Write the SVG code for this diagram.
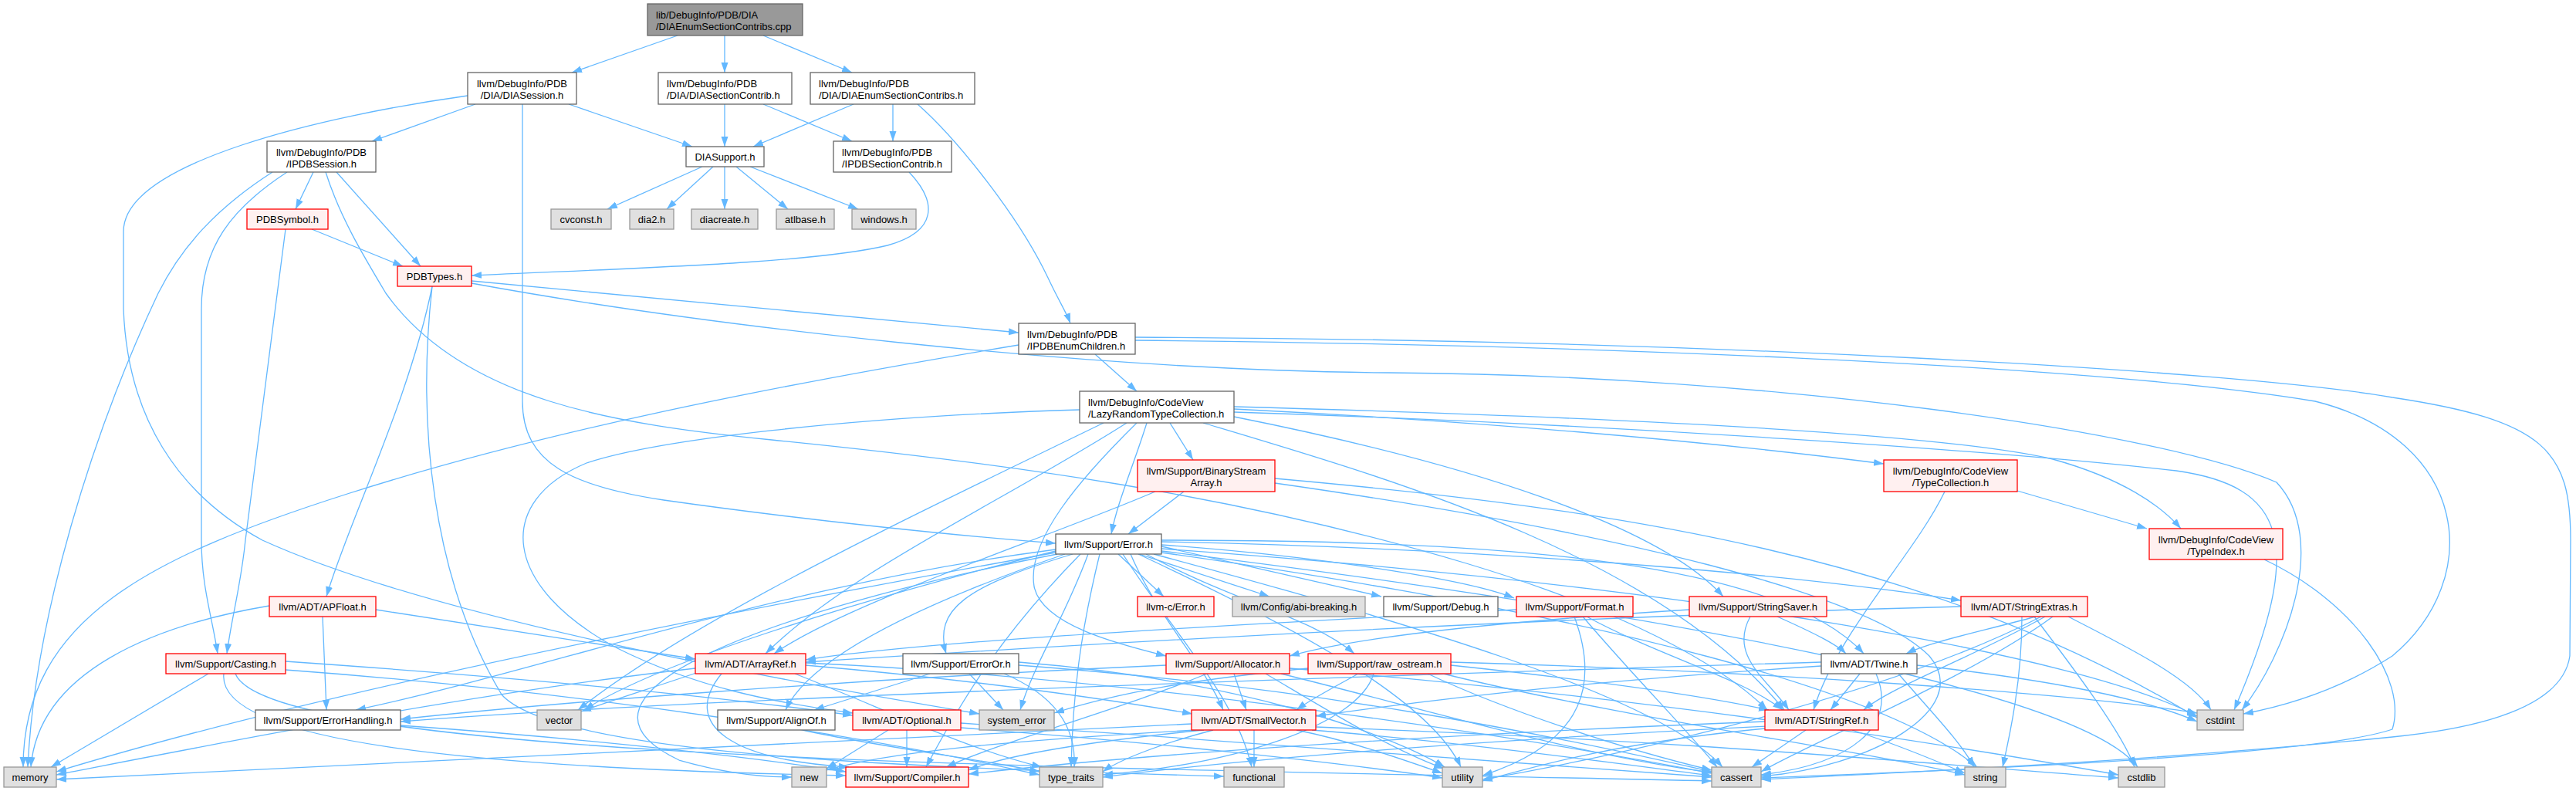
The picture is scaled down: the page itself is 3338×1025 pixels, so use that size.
<svg xmlns="http://www.w3.org/2000/svg" width="3338" height="1025" viewBox="0 0 3338 1025">
<style>
text{font-family:"Liberation Sans",Arial,Helvetica,sans-serif;font-size:13px;fill:#000}
.c text{text-anchor:middle}
.m rect{fill:#999999;stroke:#666666;stroke-width:1.3}
.w rect{fill:#ffffff;stroke:#666666;stroke-width:1.3}
.r rect{fill:#fff0f0;stroke:#ff0000;stroke-width:1.3}
.g rect{fill:#e0e0e0;stroke:#999999;stroke-width:1.3}
#edges path{fill:none;stroke:#63b8ff;stroke-width:1.3;marker-end:url(#a)}
</style>
<defs>
<marker id="a" markerUnits="userSpaceOnUse" markerWidth="13" markerHeight="10" refX="13" refY="4.5" orient="auto">
<path d="M0,0 L13,4.5 L0,9 z" fill="#63b8ff"/>
</marker>
</defs>
<rect width="3338" height="1025" fill="#ffffff"/>
<g id="edges">
<path d="M878,46 L741,94"/>
<path d="M939,46 L939,94"/>
<path d="M989,46 L1104,94"/>
<path d="M616,135 L482,183"/>
<path d="M737,135 L897,190"/>
<path d="M677,135 L677,520 C677,600 740,630 860,648 C1050,675 1250,695 1368,704"/>
<path d="M606,124 C420,150 160,210 160,300 L160,400 C165,540 230,640 340,700 C560,800 1000,880 1269,925"/>
<path d="M939,135 L939,190"/>
<path d="M989,135 L1104,183"/>
<path d="M1106,135 L976,190"/>
<path d="M1157,135 L1157,183"/>
<path d="M1189,135 C1240,180 1320,280 1358,360 C1372,390 1382,405 1387,419"/>
<path d="M910,216 L787,271"/>
<path d="M924,216 L864,271"/>
<path d="M939,216 L939,271"/>
<path d="M954,216 L1021,271"/>
<path d="M972,216 L1112,271"/>
<path d="M406,223 L383,271"/>
<path d="M436,223 L545,345"/>
<path d="M353,223 C280,270 235,320 205,380 C120,560 45,800 36,994"/>
<path d="M372,223 C300,270 261,320 261,400 L261,700 C261,760 275,800 282,847"/>
<path d="M422,223 C440,280 470,330 500,380 C600,520 800,550 1000,570 C1300,600 1600,640 1900,730 C2100,790 2230,860 2290,920"/>
<path d="M1178,223 C1215,262 1215,300 1150,318 C1050,342 800,348 611,357"/>
<path d="M404,297 L522,345"/>
<path d="M370,297 C350,450 325,650 318,700 C312,760 300,800 294,847"/>
<path d="M611,364 L1320,431"/>
<path d="M611,367 C900,420 1400,480 1800,483 C2300,486 2800,560 2950,625 C3020,700 2960,850 2905,920"/>
<path d="M560,371 C530,520 450,680 423,773"/>
<path d="M560,371 C540,550 560,750 650,900 C720,980 1200,995 1586,1006"/>
<path d="M1419,459 L1473,507"/>
<path d="M1320,447 C1000,500 700,560 450,640 C200,720 30,800 30,994"/>
<path d="M1471,441 C2000,446 2700,470 3000,520 C3200,570 3220,750 3100,850 C3030,895 2960,915 2907,925"/>
<path d="M1471,437 C2200,440 2900,480 3100,515 C3300,545 3331,585 3331,700 L3330,850 C3320,920 3200,945 3100,955 C2800,985 2500,1000 2282,1010"/>
<path d="M1516,548 L1546,596"/>
<path d="M1599,530 C1900,545 2200,570 2441,601"/>
<path d="M1599,527 C2000,538 2500,558 2660,595 C2750,620 2800,655 2826,685"/>
<path d="M1599,534 C2100,550 2600,585 2820,610 C2960,630 2990,700 2895,920"/>
<path d="M1599,540 C1900,600 2150,680 2233,773"/>
<path d="M1486,548 C1470,600 1448,650 1440,692"/>
<path d="M1460,548 C1300,650 1100,740 992,847"/>
<path d="M1430,548 C1200,660 900,800 749,920"/>
<path d="M1473,548 C1400,620 1330,700 1340,760 C1350,810 1450,835 1511,850"/>
<path d="M1399,531 C1100,540 850,570 760,600 C640,650 650,760 800,840 C900,890 1000,910 1105,924"/>
<path d="M1559,548 C1800,620 2150,720 2312,920"/>
<path d="M1534,637 L1462,692"/>
<path d="M1497,637 C1350,700 1100,780 1003,847"/>
<path d="M1652,620 C2100,660 2500,720 2847,930"/>
<path d="M1652,626 C2100,690 2420,770 2500,850 C2560,920 2420,995 2282,1006"/>
<path d="M2614,636 L2782,685"/>
<path d="M2520,637 C2480,720 2380,820 2350,920"/>
<path d="M2934,725 C3050,780 3120,880 3100,945 C3000,980 2500,1000 2282,1008"/>
<path d="M1449,718 L1508,773"/>
<path d="M1476,718 L1645,773"/>
<path d="M1505,708 L1790,773"/>
<path d="M1505,706 C1700,720 1900,750 1962,775"/>
<path d="M1505,702 C1900,710 2300,740 2541,778"/>
<path d="M1505,700 C1900,700 2300,720 2415,847"/>
<path d="M1390,718 C1250,760 1210,790 1226,847"/>
<path d="M1380,718 C1200,780 1050,850 1018,920"/>
<path d="M1368,712 C1000,760 700,870 461,920"/>
<path d="M1368,714 C1100,780 850,860 757,920"/>
<path d="M1368,716 C900,800 400,900 73,1000"/>
<path d="M1370,718 C1000,790 700,900 880,985 C950,1005 1000,1007 1026,1007"/>
<path d="M1400,718 C1300,820 1250,900 1200,994"/>
<path d="M1410,718 C1380,800 1340,860 1322,920"/>
<path d="M1425,718 C1400,820 1390,900 1388,994"/>
<path d="M1455,718 C1520,820 1600,900 1622,994"/>
<path d="M1475,718 C1650,800 1850,900 1893,994"/>
<path d="M1495,718 C1800,800 2150,900 2232,994"/>
<path d="M1505,711 C2200,760 2700,850 2847,928"/>
<path d="M1505,714 C2200,800 2700,900 2770,994"/>
<path d="M1505,716 C2100,800 2450,900 2562,994"/>
<path d="M1485,718 C1600,780 1700,800 1755,847"/>
<path d="M1465,718 C1500,800 1560,860 1585,920"/>
<path d="M1965,790 C1600,810 1200,830 1044,855"/>
<path d="M2056,799 C2150,850 2260,880 2310,920"/>
<path d="M2051,799 C2120,880 2190,950 2225,994"/>
<path d="M2040,799 C2070,880 2060,960 1921,1005"/>
<path d="M2189,790 C1950,805 1760,825 1671,850"/>
<path d="M2268,799 C2240,850 2290,880 2318,920"/>
<path d="M2303,799 C2350,820 2380,835 2392,847"/>
<path d="M2541,786 C2000,800 1400,835 1044,858"/>
<path d="M2638,799 C2560,820 2500,832 2470,847"/>
<path d="M2650,799 C2560,850 2450,890 2415,920"/>
<path d="M2660,799 C2550,880 2350,960 2282,1000"/>
<path d="M2645,799 C2450,900 2100,980 1921,1010"/>
<path d="M2680,799 C2760,840 2840,880 2865,920"/>
<path d="M2636,799 C2690,870 2750,950 2766,994"/>
<path d="M2620,799 C2620,880 2605,950 2595,994"/>
<path d="M2410,873 L2372,920"/>
<path d="M2431,873 C2460,940 2400,990 2282,1004"/>
<path d="M2360,863 C2100,880 1900,900 1705,928"/>
<path d="M2360,858 C1800,875 900,905 519,935"/>
<path d="M2484,862 C2650,880 2780,905 2847,935"/>
<path d="M2460,873 C2500,920 2540,960 2558,994"/>
<path d="M1560,946 C1400,962 1300,980 1255,998"/>
<path d="M1572,946 C1500,965 1450,985 1429,1000"/>
<path d="M1625,946 L1625,994"/>
<path d="M1700,946 C1900,962 2100,990 2218,1005"/>
<path d="M1705,942 C2200,960 2500,990 2745,1008"/>
<path d="M1680,946 C1750,960 1820,985 1869,1002"/>
<path d="M1544,938 C1000,960 500,990 73,1010"/>
<path d="M1550,946 C1300,960 1150,975 1071,998"/>
<path d="M2287,935 C1900,950 1500,975 1255,1003"/>
<path d="M2290,941 C1900,960 1600,985 1429,1007"/>
<path d="M2340,946 L2270,994"/>
<path d="M2400,946 C2450,962 2500,982 2546,1002"/>
<path d="M2287,944 C2100,962 2000,990 1921,1012"/>
<path d="M1760,873 C1730,890 1700,905 1680,920"/>
<path d="M1880,862 C2050,880 2200,900 2292,920"/>
<path d="M1850,873 C1950,920 2100,970 2218,998"/>
<path d="M1880,858 C2300,870 2700,900 2847,924"/>
<path d="M1870,873 C2100,930 2400,970 2546,1004"/>
<path d="M1695,866 C1550,880 1450,897 1366,924"/>
<path d="M1780,873 C1760,940 1600,990 1429,1004"/>
<path d="M1599,873 L1615,920"/>
<path d="M1564,873 C1450,920 1300,960 1226,994"/>
<path d="M1511,862 C1100,880 700,912 519,932"/>
<path d="M1660,873 C1850,920 2050,980 2218,1001"/>
<path d="M1671,866 C2100,900 2500,960 2745,1004"/>
<path d="M1640,873 C1720,920 1800,970 1871,996"/>
<path d="M1044,862 C1250,880 1400,900 1545,925"/>
<path d="M935,873 C880,940 950,985 1100,994"/>
<path d="M901,866 C600,900 300,960 73,1004"/>
<path d="M905,871 C850,890 800,905 753,922"/>
<path d="M1030,873 C1150,920 1250,970 1350,994"/>
<path d="M1044,859 C1500,880 2000,960 2218,1002"/>
<path d="M1205,873 L1055,920"/>
<path d="M1256,873 L1300,920"/>
<path d="M1301,873 C1365,900 1395,940 1392,994"/>
<path d="M1320,862 C1700,890 2000,950 2218,1000"/>
<path d="M1320,858 C1600,880 1800,950 1872,994"/>
<path d="M1040,946 C1150,970 1280,985 1347,1000"/>
<path d="M1175,946 L1175,994"/>
<path d="M1151,946 L1071,996"/>
<path d="M1245,937 C1600,960 2000,990 2218,1007"/>
<path d="M1245,943 C1500,962 1750,990 1869,1008"/>
<path d="M270,873 L66,994"/>
<path d="M370,857 C700,880 950,905 1105,927"/>
<path d="M370,868 C800,900 1150,960 1347,1004"/>
<path d="M290,873 C280,960 600,995 1096,1005"/>
<path d="M305,873 C350,990 1500,995 2218,1012"/>
<path d="M418,799 L423,920"/>
<path d="M349,785 C200,810 50,870 40,994"/>
<path d="M487,790 C650,815 780,835 901,854"/>
<path d="M519,940 C800,960 1000,985 1096,1000"/>
</g>
<g id="nodes">
<g id="n_main" class="m"><rect x="839" y="5" width="201" height="41"/><text x="850" y="24">lib/DebugInfo/PDB/DIA</text><text x="850" y="39">/DIAEnumSectionContribs.cpp</text></g>
<g id="n_DIASession" class="w c"><rect x="606" y="94" width="141" height="41"/><text x="676.5" y="113">llvm/DebugInfo/PDB</text><text x="676.5" y="128">/DIA/DIASession.h</text></g>
<g id="n_DIASectionContrib" class="w"><rect x="853" y="94" width="173" height="41"/><text x="864" y="113">llvm/DebugInfo/PDB</text><text x="864" y="128">/DIA/DIASectionContrib.h</text></g>
<g id="n_DIAEnumSectionContribs" class="w"><rect x="1050" y="94" width="213" height="41"/><text x="1061" y="113">llvm/DebugInfo/PDB</text><text x="1061" y="128">/DIA/DIAEnumSectionContribs.h</text></g>
<g id="n_IPDBSession" class="w c"><rect x="346" y="183" width="141" height="40"/><text x="416.5" y="202">llvm/DebugInfo/PDB</text><text x="416.5" y="217">/IPDBSession.h</text></g>
<g id="n_DIASupport" class="w c"><rect x="889" y="190" width="101" height="26"/><text x="939.5" y="207.5">DIASupport.h</text></g>
<g id="n_IPDBSectionContrib" class="w"><rect x="1080" y="183" width="153" height="40"/><text x="1091" y="202">llvm/DebugInfo/PDB</text><text x="1091" y="217">/IPDBSectionContrib.h</text></g>
<g id="n_PDBSymbol" class="r c"><rect x="320" y="271" width="105" height="26"/><text x="372.5" y="288.5">PDBSymbol.h</text></g>
<g id="n_cvconst" class="g c"><rect x="714" y="271" width="78" height="26"/><text x="753" y="288.5">cvconst.h</text></g>
<g id="n_dia2" class="g c"><rect x="816" y="271" width="57" height="26"/><text x="844.5" y="288.5">dia2.h</text></g>
<g id="n_diacreate" class="g c"><rect x="896" y="271" width="86" height="26"/><text x="939" y="288.5">diacreate.h</text></g>
<g id="n_atlbase" class="g c"><rect x="1006" y="271" width="75" height="26"/><text x="1043.5" y="288.5">atlbase.h</text></g>
<g id="n_windows" class="g c"><rect x="1104" y="271" width="83" height="26"/><text x="1145.5" y="288.5">windows.h</text></g>
<g id="n_PDBTypes" class="r c"><rect x="515" y="345" width="96" height="26"/><text x="563" y="362.5">PDBTypes.h</text></g>
<g id="n_IPDBEnumChildren" class="w"><rect x="1320" y="419" width="151" height="40"/><text x="1331" y="438">llvm/DebugInfo/PDB</text><text x="1331" y="453">/IPDBEnumChildren.h</text></g>
<g id="n_LazyRandomTypeCollection" class="w"><rect x="1399" y="507" width="200" height="41"/><text x="1410" y="526">llvm/DebugInfo/CodeView</text><text x="1410" y="541">/LazyRandomTypeCollection.h</text></g>
<g id="n_BinaryStreamArray" class="r c"><rect x="1474" y="596" width="178" height="41"/><text x="1563" y="615">llvm/Support/BinaryStream</text><text x="1563" y="630">Array.h</text></g>
<g id="n_TypeCollection" class="r c"><rect x="2441" y="596" width="173" height="41"/><text x="2527.5" y="615">llvm/DebugInfo/CodeView</text><text x="2527.5" y="630">/TypeCollection.h</text></g>
<g id="n_TypeIndex" class="r c"><rect x="2785" y="685" width="173" height="40"/><text x="2871.5" y="704">llvm/DebugInfo/CodeView</text><text x="2871.5" y="719">/TypeIndex.h</text></g>
<g id="n_Error" class="w c"><rect x="1368" y="692" width="137" height="26"/><text x="1436.5" y="709.5">llvm/Support/Error.h</text></g>
<g id="n_APFloat" class="r c"><rect x="349" y="773" width="138" height="26"/><text x="418" y="790.5">llvm/ADT/APFloat.h</text></g>
<g id="n_cError" class="r c"><rect x="1474" y="773" width="99" height="26"/><text x="1523.5" y="790.5">llvm-c/Error.h</text></g>
<g id="n_abibreaking" class="g c"><rect x="1597" y="773" width="172" height="26"/><text x="1683" y="790.5">llvm/Config/abi-breaking.h</text></g>
<g id="n_Debug" class="w c"><rect x="1793" y="773" width="148" height="26"/><text x="1867" y="790.5">llvm/Support/Debug.h</text></g>
<g id="n_Format" class="r c"><rect x="1965" y="773" width="151" height="26"/><text x="2040.5" y="790.5">llvm/Support/Format.h</text></g>
<g id="n_StringSaver" class="r c"><rect x="2189" y="773" width="178" height="26"/><text x="2278" y="790.5">llvm/Support/StringSaver.h</text></g>
<g id="n_StringExtras" class="r c"><rect x="2541" y="773" width="164" height="26"/><text x="2623" y="790.5">llvm/ADT/StringExtras.h</text></g>
<g id="n_Casting" class="r c"><rect x="215" y="847" width="155" height="26"/><text x="292.5" y="864.5">llvm/Support/Casting.h</text></g>
<g id="n_ArrayRef" class="r c"><rect x="901" y="847" width="143" height="26"/><text x="972.5" y="864.5">llvm/ADT/ArrayRef.h</text></g>
<g id="n_ErrorOr" class="w c"><rect x="1170" y="847" width="150" height="26"/><text x="1245" y="864.5">llvm/Support/ErrorOr.h</text></g>
<g id="n_Allocator" class="r c"><rect x="1511" y="847" width="160" height="26"/><text x="1591" y="864.5">llvm/Support/Allocator.h</text></g>
<g id="n_raw_ostream" class="r c"><rect x="1695" y="847" width="185" height="26"/><text x="1787.5" y="864.5">llvm/Support/raw_ostream.h</text></g>
<g id="n_Twine" class="w c"><rect x="2360" y="847" width="124" height="26"/><text x="2422" y="864.5">llvm/ADT/Twine.h</text></g>
<g id="n_ErrorHandling" class="w c"><rect x="331" y="920" width="188" height="26"/><text x="425" y="937.5">llvm/Support/ErrorHandling.h</text></g>
<g id="n_vector" class="g c"><rect x="696" y="920" width="57" height="26"/><text x="724.5" y="937.5">vector</text></g>
<g id="n_AlignOf" class="w c"><rect x="930" y="920" width="152" height="26"/><text x="1006" y="937.5">llvm/Support/AlignOf.h</text></g>
<g id="n_Optional" class="r c"><rect x="1105" y="920" width="140" height="26"/><text x="1175" y="937.5">llvm/ADT/Optional.h</text></g>
<g id="n_system_error" class="g c"><rect x="1269" y="920" width="97" height="26"/><text x="1317.5" y="937.5">system_error</text></g>
<g id="n_SmallVector" class="r c"><rect x="1544" y="920" width="161" height="26"/><text x="1624.5" y="937.5">llvm/ADT/SmallVector.h</text></g>
<g id="n_StringRef" class="r c"><rect x="2287" y="920" width="147" height="26"/><text x="2360.5" y="937.5">llvm/ADT/StringRef.h</text></g>
<g id="n_cstdint" class="g c"><rect x="2847" y="920" width="60" height="26"/><text x="2877" y="937.5">cstdint</text></g>
<g id="n_memory" class="g c"><rect x="5" y="994" width="68" height="26"/><text x="39" y="1011.5">memory</text></g>
<g id="n_new" class="g c"><rect x="1026" y="994" width="45" height="26"/><text x="1048.5" y="1011.5">new</text></g>
<g id="n_Compiler" class="r c"><rect x="1096" y="994" width="159" height="26"/><text x="1175.5" y="1011.5">llvm/Support/Compiler.h</text></g>
<g id="n_type_traits" class="g c"><rect x="1347" y="994" width="82" height="26"/><text x="1388" y="1011.5">type_traits</text></g>
<g id="n_functional" class="g c"><rect x="1586" y="994" width="78" height="26"/><text x="1625" y="1011.5">functional</text></g>
<g id="n_utility" class="g c"><rect x="1869" y="994" width="52" height="26"/><text x="1895" y="1011.5">utility</text></g>
<g id="n_cassert" class="g c"><rect x="2218" y="994" width="64" height="26"/><text x="2250" y="1011.5">cassert</text></g>
<g id="n_string" class="g c"><rect x="2546" y="994" width="53" height="26"/><text x="2572.5" y="1011.5">string</text></g>
<g id="n_cstdlib" class="g c"><rect x="2745" y="994" width="60" height="26"/><text x="2775" y="1011.5">cstdlib</text></g>
</g>
</svg>
